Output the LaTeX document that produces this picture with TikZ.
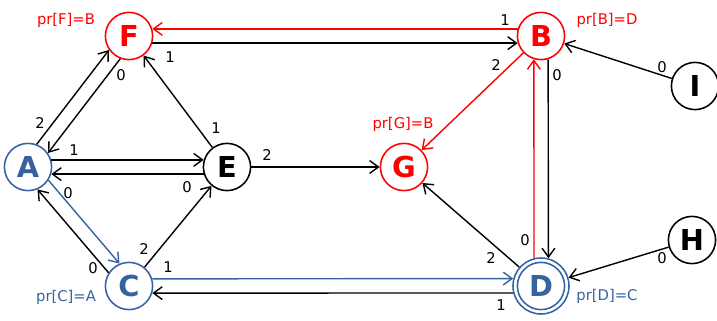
\documentclass[tikz,border=0pt]{standalone}
\usepackage{fontspec}
\setmainfont{DejaVu Sans}
\usetikzlibrary{arrows.meta}
\definecolor{PathRed}{RGB}{255,0,0}
\definecolor{TreeBlue}{RGB}{54,99,160}
\tikzset{
  vertex/.style={circle,draw=black,line width=1.1pt,fill=white,inner sep=0pt,
    minimum size=1.18cm,font=\fontsize{20.5}{20.5}\selectfont\bfseries},
  redvertex/.style={vertex,draw=PathRed,text=PathRed},
  bluevertex/.style={vertex,draw=TreeBlue,text=TreeBlue},
  ring/.style={circle,draw=TreeBlue,line width=1.1pt,inner sep=0pt,minimum size=1.18cm},
  edge/.style={-{Straight Barb[length=2.2mm,width=3.2mm]},line width=1pt,draw=black},
  rededge/.style={edge,draw=PathRed},
  blueedge/.style={edge,draw=TreeBlue},
  wt/.style={font=\fontsize{10.5}{10.5}\selectfont,inner sep=0pt},
  prlabel/.style={font=\fontsize{10.5}{10.5}\selectfont,inner sep=0pt}
}
\begin{document}
\begin{tikzpicture}[x=0.025cm,y=-0.025cm]
  \useasboundingbox (0,0) rectangle (717,321);
  % vertices
  \node[redvertex]  (F) at (129,36)  {F};
  \node[redvertex]  (B) at (541,36)  {B};
  \node[bluevertex] (A) at (28,167)  {A};
  \node[vertex]     (E) at (227,167) {E};
  \node[redvertex]  (G) at (404,167) {G};
  \node[bluevertex] (C) at (129,286) {C};
  \node[bluevertex,minimum size=1.4cm] (D) at (541,286) {D};
  \node[ring] (Dring) at (D) {};
  \node[vertex]     (I) at (695,86)  {I};
  \node[vertex]     (H) at (692,240) {H};
  % predecessor labels
  \node[prlabel,text=PathRed]  (prF) at (66,20)   {pr[F]=B};
  \node[prlabel,text=PathRed]  (prB) at (607,20)  {pr[B]=D};
  \node[prlabel,text=PathRed]  (prG) at (403,124) {pr[G]=B};
  \node[prlabel,text=TreeBlue] (prC) at (66,297)  {pr[C]=A};
  \node[prlabel,text=TreeBlue] (prD) at (607,296) {pr[D]=C};
  % edges
  \draw[rededge]  (B.163) -- (F.17);
  \draw[edge]     (F.-17) -- (B.197);
  \draw[edge]     (A.69) -- (F.215);
  \draw[edge]     (F.249) -- (A.35);
  \draw[edge]     (E) -- (F);
  \draw[edge]     (A.17) -- (E.163);
  \draw[edge]     (E.197) -- (A.-17);
  \draw[edge]     (E) -- (G);
  \draw[blueedge] (A.-33) -- (C.113);
  \draw[edge]     (C.147) -- (A.-67);
  \draw[edge]     (C) -- (E);
  \draw[blueedge] (C.17) -- (D.165.5);
  \draw[edge]     (D.194.5) -- (C.-17);
  \draw[edge]     (D) -- (G);
  \draw[rededge]  (D.104.5) -- (B.253);
  \draw[edge]     (B.287) -- (D.75.5);
  \draw[rededge]  (B) -- (G);
  \draw[edge]     (I) -- (B);
  \draw[edge]     (H) -- (D);
  % weights
  \node[wt] (wBF) at (505,20)  {1};
  \node[wt] (wFB) at (170,57)  {1};
  \node[wt] (wAF) at (40,123)  {2};
  \node[wt] (wFA) at (121,75)  {0};
  \node[wt] (wEF) at (216,128) {1};
  \node[wt] (wAE) at (74,150)  {1};
  \node[wt] (wEA) at (187,187) {0};
  \node[wt] (wEG) at (267,155) {2};
  \node[wt] (wAC) at (68,193)  {0};
  \node[wt] (wCA) at (93,268)  {0};
  \node[wt] (wCE) at (144,249) {2};
  \node[wt] (wCD) at (168,267) {1};
  \node[wt] (wDC) at (501,305) {1};
  \node[wt] (wDG) at (491,258) {2};
  \node[wt] (wDB) at (525,240) {0};
  \node[wt] (wBD) at (557,75)  {0};
  \node[wt] (wBG) at (496,65)  {2};
  \node[wt] (wIB) at (662,67)  {0};
  \node[wt] (wHD) at (662,258) {0};
\end{tikzpicture}
\end{document}
